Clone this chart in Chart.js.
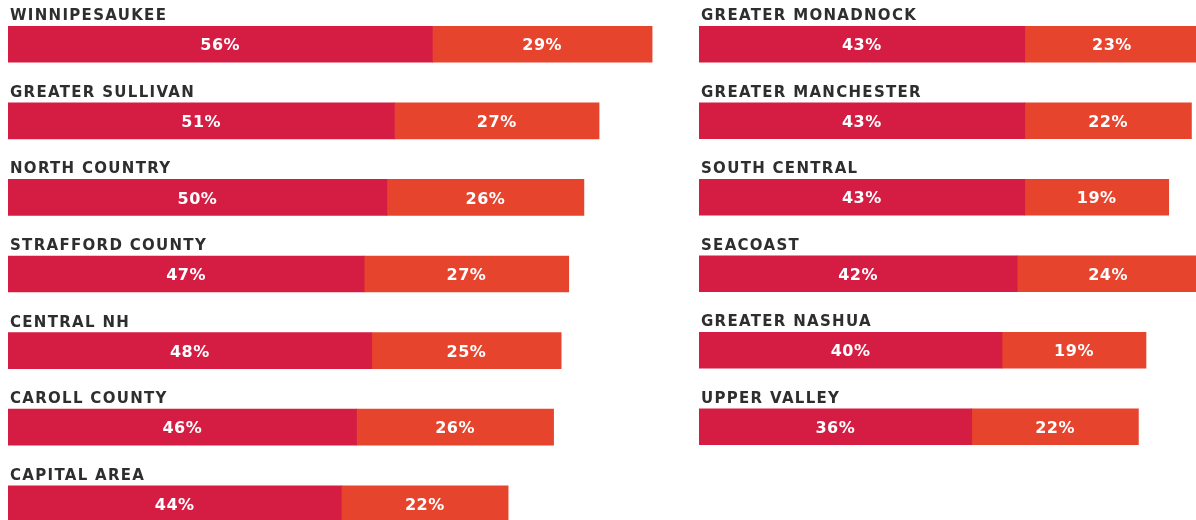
<!DOCTYPE html>
<html>
<head>
<meta charset="utf-8">
<script src="https://cdn.jsdelivr.net/npm/chart.js@4.4.1/dist/chart.umd.min.js"></script>
<style>
  html, body { margin: 0; padding: 0; background: #fff; overflow: hidden; width: 1196px; height: 520px; }
  #leftChart { position: absolute; left: 0; top: 6px; }
  #rightChart { position: absolute; left: 691px; top: 6px; }
</style>
</head>
<body>
<canvas id="leftChart" width="690" height="536"></canvas>
<canvas id="rightChart" width="505" height="459"></canvas>
<script>
const leftRegions = ["WINNIPESAUKEE", "GREATER SULLIVAN", "NORTH COUNTRY", "STRAFFORD COUNTY", "CENTRAL NH", "CAROLL COUNTY", "CAPITAL AREA"];
const leftFirst = [56, 51, 50, 47, 48, 46, 44];
const leftSecond = [29, 27, 26, 27, 25, 26, 22];

const rightRegions = ["GREATER MONADNOCK", "GREATER MANCHESTER", "SOUTH CENTRAL", "SEACOAST", "GREATER NASHUA", "UPPER VALLEY"];
const rightFirst = [43, 43, 43, 42, 40, 36];
const rightSecond = [23, 22, 19, 24, 19, 22];

const RED = "#d51c43";
const ORANGE = "#e7442e";

// region names above each bar, percentages inside each segment
const labelPlugin = {
  id: "regionLabels",
  afterDatasetsDraw(chart) {
    const ctx = chart.ctx;
    const area = chart.chartArea;
    ctx.save();
    ctx.font = 'bold 15px "DejaVu Sans"';
    ctx.letterSpacing = "1.3px";
    ctx.fillStyle = "#2e2e2e";
    ctx.textAlign = "left";
    ctx.textBaseline = "alphabetic";
    chart.getDatasetMeta(0).data.forEach((bar, i) => {
      ctx.fillText(chart.data.labels[i], area.left + 2, bar.y - bar.height / 2 - 6);
    });

    ctx.font = 'bold 16px "DejaVu Sans"';
    ctx.letterSpacing = "0.5px";
    ctx.fillStyle = "#ffffff";
    ctx.textAlign = "center";
    ctx.textBaseline = "middle";
    chart.data.datasets.forEach((ds, d) => {
      chart.getDatasetMeta(d).data.forEach((bar, i) => {
        const x = (bar.base + bar.x) / 2;
        ctx.fillText(ds.data[i] + "%", x, bar.y + 2);
      });
    });
    ctx.restore();
  }
};

function makeChart(id, labels, first, second, xMax) {
  return new Chart(document.getElementById(id), {
    type: "bar",
    data: {
      labels,
      datasets: [
        { data: first, backgroundColor: RED, barThickness: 36 },
        { data: second, backgroundColor: ORANGE, barThickness: 36 }
      ]
    },
    options: {
      indexAxis: "y",
      responsive: false,
      animation: false,
      layout: { padding: { left: 8, right: 0, top: 0, bottom: 0 } },
      scales: {
        x: { stacked: true, min: 0, max: xMax, display: false },
        y: { stacked: true, display: false }
      },
      plugins: {
        legend: { display: false },
        tooltip: { enabled: false }
      }
    },
    plugins: [labelPlugin]
  });
}

makeChart("leftChart", leftRegions, leftFirst, leftSecond, 90);
makeChart("rightChart", rightRegions, rightFirst, rightSecond, 65.6);
</script>
</body>
</html>
